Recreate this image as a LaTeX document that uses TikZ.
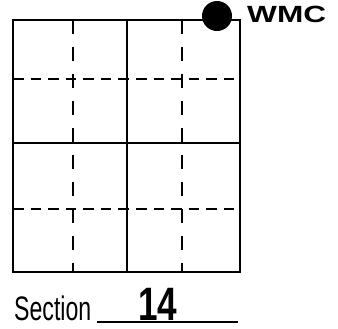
\documentclass[tikz,border=0pt]{standalone}
\usepackage{fontspec}
\setmainfont{Liberation Sans}
\usetikzlibrary{positioning}
\tikzset{
  gridline/.style={draw=black, line width=1.6pt, line cap=rect},
  cutline/.style={draw=black, line width=1.6pt},
  hcut/.style={cutline, dash pattern=on 9pt off 6pt},
  vcut/.style={cutline, dash pattern=on 12pt off 11pt},
  cornerdot/.style={circle, fill=black, inner sep=0pt, minimum size=0.9cm},
  handtext/.style={inner sep=0pt, font=\bfseries\fontsize{20}{22}\selectfont},
  caption/.style={inner sep=0pt, font=\fontsize{29}{30}\selectfont},
  blankline/.style={draw=black, line width=1pt},
}
\begin{document}
\begin{tikzpicture}[x=0.03cm, y=-0.03cm]
  \useasboundingbox (0,0) rectangle (338,328);
  % plot outline and halves
  \draw[gridline] (13,20) rectangle (240,272);
  \draw[gridline] (127,20) -- (127,272);
  \draw[gridline] (13,143) -- (240,143);
  % quarter lines
  \foreach \x in {73,182}
    \draw[vcut] (\x,20) -- (\x,272);
  \foreach \y in {79,209}
    \draw[hcut] (13,\y) -- (240,\y);
  % corner marker
  \node[cornerdot] (wmc) at (217,16) {};
  \node[handtext, anchor=west] (wmclabel) at (247,14) {\scalebox{1.35}[1]{WMC}};
  % section label
  \node[caption, anchor=base west] (section) at (14,320) {\scalebox{0.68}[1]{Section}};
  \coordinate (blankL) at (97,322);
  \coordinate (blankR) at (238,322);
  \draw[blankline] (blankL) -- (blankR);
  \node[caption, anchor=base, font=\bfseries\fontsize{40}{42}\selectfont] (secnum) at (158,320) {\scalebox{0.75}[1]{14}};
\end{tikzpicture}
\end{document}
